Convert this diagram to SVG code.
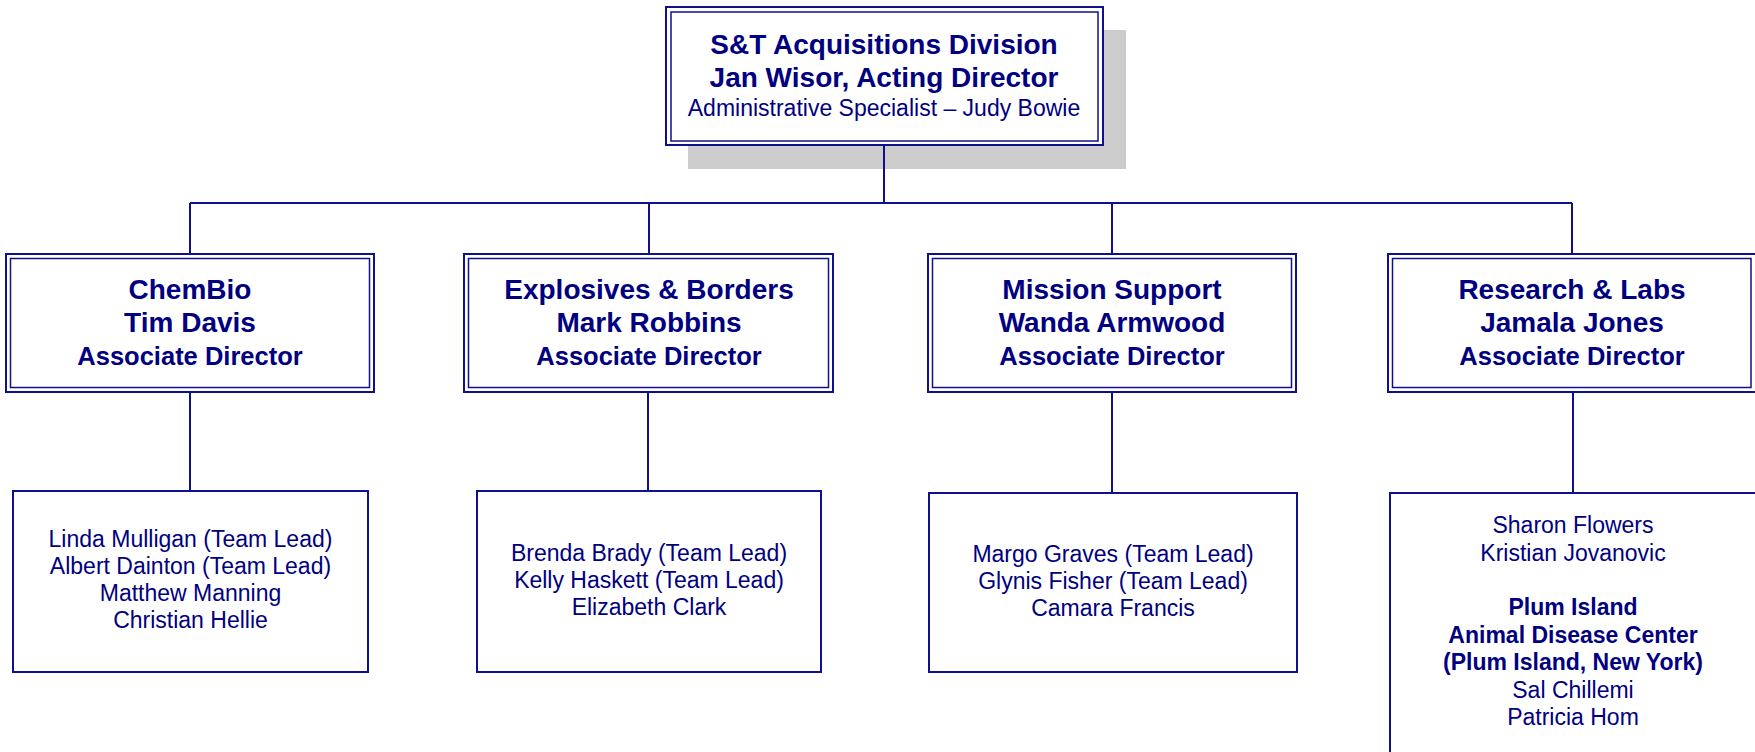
<svg xmlns="http://www.w3.org/2000/svg" width="1755" height="752" viewBox="0 0 1755 752">
<style>
.bg{fill:#ffffff}
.out{fill:#ffffff;stroke:#10108a;stroke-width:2}
.in{fill:none;stroke:#10108a;stroke-width:1.5}
.box{fill:#ffffff;stroke:#10108a;stroke-width:2}
.shadow{fill:#cccccc}
.conn{stroke:#10108a;stroke-width:2;fill:none}
text{font-family:"Liberation Sans",Arial,sans-serif;fill:#000080;text-anchor:middle}
.b28{font-size:28px;font-weight:bold}
.b25{font-size:25.5px;font-weight:bold}
.r23{font-size:23px}
.b23{font-size:23px;font-weight:bold}
</style>
<rect class="bg" x="0" y="0" width="1755" height="752"/>
<g id="top">
<rect class="shadow" x="688" y="30" width="438" height="139"/>
<rect class="out" x="666" y="7" width="437" height="138"/>
<rect class="in" x="671" y="12" width="427" height="129"/>
<text class="b28" x="884" y="54">S&amp;T Acquisitions Division</text>
<text class="b28" x="884" y="87">Jan Wisor, Acting Director</text>
<text class="r23" x="884" y="116">Administrative Specialist – Judy Bowie</text>
</g>
<g id="chembio">
<rect class="out" x="6" y="254" width="368" height="138"/>
<rect class="in" x="10.5" y="258.5" width="359" height="129"/>
<text class="b28" x="190" y="299">ChemBio</text>
<text class="b28" x="190" y="332">Tim Davis</text>
<text class="b25" x="190" y="365">Associate Director</text>
</g>
<g id="explosives">
<rect class="out" x="464" y="254" width="369" height="138"/>
<rect class="in" x="468.5" y="258.5" width="360" height="129"/>
<text class="b28" x="649" y="299">Explosives &amp; Borders</text>
<text class="b28" x="649" y="332">Mark Robbins</text>
<text class="b25" x="649" y="365">Associate Director</text>
</g>
<g id="mission">
<rect class="out" x="928" y="254" width="368" height="138"/>
<rect class="in" x="932.5" y="258.5" width="359" height="129"/>
<text class="b28" x="1112" y="299">Mission Support</text>
<text class="b28" x="1112" y="332">Wanda Armwood</text>
<text class="b25" x="1112" y="365">Associate Director</text>
</g>
<g id="research">
<rect class="out" x="1388" y="254" width="369" height="138"/>
<rect class="in" x="1392.5" y="258.5" width="358.5" height="129"/>
<text class="b28" x="1572" y="299">Research &amp; Labs</text>
<text class="b28" x="1572" y="332">Jamala Jones</text>
<text class="b25" x="1572" y="365">Associate Director</text>
</g>
<g id="chembio-team">
<rect class="box" x="13" y="491" width="355" height="181"/>
<text class="r23" x="190.5" y="547">Linda Mulligan (Team Lead)</text>
<text class="r23" x="190.5" y="574">Albert Dainton (Team Lead)</text>
<text class="r23" x="190.5" y="601">Matthew Manning</text>
<text class="r23" x="190.5" y="628">Christian Hellie</text>
</g>
<g id="explosives-team">
<rect class="box" x="477" y="491" width="344" height="181"/>
<text class="r23" x="649" y="561">Brenda Brady (Team Lead)</text>
<text class="r23" x="649" y="588">Kelly Haskett (Team Lead)</text>
<text class="r23" x="649" y="615">Elizabeth Clark</text>
</g>
<g id="mission-team">
<rect class="box" x="929" y="493" width="368" height="179"/>
<text class="r23" x="1113" y="562">Margo Graves (Team Lead)</text>
<text class="r23" x="1113" y="589">Glynis Fisher (Team Lead)</text>
<text class="r23" x="1113" y="616">Camara Francis</text>
</g>
<g id="research-team">
<rect class="box" x="1390" y="493" width="370" height="270"/>
<text class="r23" x="1573" y="533">Sharon Flowers</text>
<text class="r23" x="1573" y="560.5">Kristian Jovanovic</text>
<text class="b23" x="1573" y="615">Plum Island</text>
<text class="b23" x="1573" y="642.5">Animal Disease Center</text>
<text class="b23" x="1573" y="670">(Plum Island, New York)</text>
<text class="r23" x="1573" y="697.5">Sal Chillemi</text>
<text class="r23" x="1573" y="725">Patricia Hom</text>
</g>
<g id="connectors">
<line class="conn" x1="884" y1="146" x2="884" y2="203"/>
<line class="conn" x1="190" y1="203" x2="1572" y2="203"/>
<line class="conn" x1="190" y1="203" x2="190" y2="253"/>
<line class="conn" x1="649" y1="203" x2="649" y2="253"/>
<line class="conn" x1="1112" y1="203" x2="1112" y2="253"/>
<line class="conn" x1="1572" y1="203" x2="1572" y2="253"/>
<line class="conn" x1="190" y1="393" x2="190" y2="490"/>
<line class="conn" x1="648" y1="393" x2="648" y2="490"/>
<line class="conn" x1="1112" y1="393" x2="1112" y2="492"/>
<line class="conn" x1="1573" y1="393" x2="1573" y2="492"/>
</g>
</svg>
